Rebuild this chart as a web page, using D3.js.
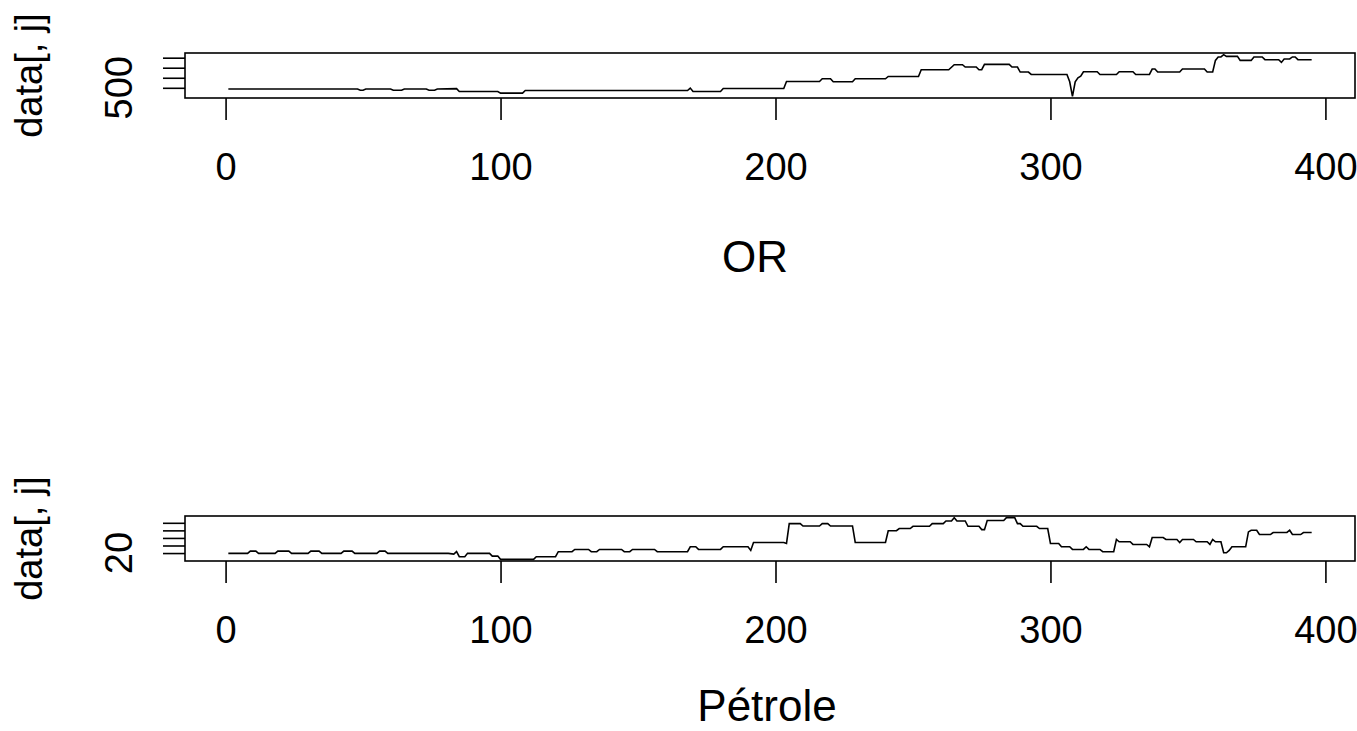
<!DOCTYPE html>
<html>
<head>
<meta charset="utf-8">
<script src="https://cdn.jsdelivr.net/npm/d3@7"></script>
<style>
  body { margin: 0; background: #fff; }
  svg text { font-family: "Liberation Sans", Arial, sans-serif; fill: #000; }
</style>
</head>
<body>
<svg id="chart" width="1357" height="731"></svg>
<script>
// x ticks shared by both panels
var xTicks = [0, 100, 200, 300, 400];

// OR (gold) - breakpoints (index, value)
var orIdx = [1, 48, 49, 50, 51, 60, 61, 64, 65, 73, 74, 76, 77, 84, 85, 99, 100, 108, 109, 168,
  169, 170, 180, 181, 203, 204, 216, 217, 220, 221, 228, 229, 240, 241, 252, 253, 263, 265, 268, 269,
  273, 274, 275, 276, 285, 286, 288, 289, 292, 293, 306, 307, 308, 309, 310, 311, 312, 317, 318, 324,
  325, 330, 331, 336, 337, 338, 339, 347, 348, 356, 357, 359, 360, 361, 362, 363, 364, 368, 369, 373,
  374, 377, 378, 383, 384, 385, 387, 388, 389, 390, 395];
var orVal = [488, 488, 476, 476, 488, 488, 476, 476, 488, 488, 476, 476, 488, 492, 463, 463, 447, 447, 473, 473,
  497, 463, 463, 493, 493, 563, 563, 590, 590, 560, 560, 590, 590, 613, 613, 680, 680, 730, 730, 707,
  707, 680, 680, 733, 733, 707, 707, 657, 657, 633, 633, 560, 415, 560, 600, 615, 660, 660, 633, 633,
  660, 660, 633, 633, 687, 687, 657, 657, 687, 687, 657, 657, 773, 807, 807, 830, 813, 813, 773, 773,
  807, 807, 780, 780, 753, 787, 787, 807, 807, 780, 780];
var orTicks = [500, 600, 700, 800];

// Petrole (oil)
var petIdx = [1, 8, 9, 11, 12, 18, 19, 23, 24, 30, 31, 34, 35, 42, 43, 46, 47, 55, 56, 58,
  59, 81, 83, 84, 85, 87, 88, 96, 97, 99, 100, 112, 113, 120, 121, 126, 127, 132, 133, 135,
  136, 144, 145, 147, 148, 156, 157, 168, 169, 171, 172, 180, 181, 190, 191, 192, 203, 204, 205, 209,
  210, 216, 217, 219, 220, 228, 229, 240, 241, 244, 245, 249, 250, 256, 257, 261, 262, 264, 265, 266,
  269, 270, 274, 275, 276, 277, 283, 284, 287, 288, 289, 290, 295, 296, 299, 300, 303, 304, 307, 308,
  312, 313, 314, 318, 319, 323, 324, 325, 329, 330, 335, 336, 337, 341, 342, 346, 347, 348, 352, 353,
  357, 358, 359, 360, 362, 363, 364, 365, 366, 371, 372, 373, 375, 376, 380, 381, 386, 387, 388, 391,
  392, 395];
var petVal = [19.6, 19.6, 22.6, 22.6, 19.6, 19.6, 22.6, 22.6, 19.6, 19.6, 22.6, 22.6, 19.6, 19.6, 22.6, 22.6, 19.6, 19.6, 22.6, 22.6,
  19.6, 19.6, 18.7, 21.9, 15.2, 15.2, 19.6, 19.6, 16, 16, 11.7, 11.7, 15.2, 15.2, 21.8, 21.8, 24.8, 24.8, 21.8, 21.8,
  24.8, 24.8, 21.8, 21.8, 24.8, 24.8, 21.8, 21.8, 28.3, 28.3, 24.8, 24.8, 28.3, 28.3, 23.5, 34, 34, 32.7, 58.9, 58.9,
  55.8, 55.8, 58.9, 58.9, 55.8, 55.8, 34, 34, 49.5, 49.5, 52.4, 52.4, 55.4, 55.4, 58.9, 58.9, 62.4, 62.4, 66.8, 62.4,
  62.4, 55.4, 55.4, 51, 51, 63, 63, 66.8, 66.8, 58.9, 58.9, 55.4, 55.4, 52.4, 52.4, 32.7, 32.7, 28.3, 28.3, 24.8,
  24.8, 28.3, 24.8, 24.8, 21.8, 21.8, 38, 34.9, 34.9, 31.4, 31.4, 28.3, 40.6, 40.6, 38, 38, 34, 38, 38, 34.9,
  34.9, 31.4, 38, 34.9, 34.9, 20.4, 20.4, 23.5, 28.3, 28.3, 48, 50.2, 50.2, 44.5, 44.5, 47.2, 47.2, 50.2, 44.5, 44.5,
  47.2, 47.2];
var petTicks = [20, 30, 40, 50, 60];

var svg = d3.select("#chart");
var left = 185, right = 1355;
var tickFs = 38, labFs = 38, titleFs = 44, lw = 1.6;

// R style range: data extent widened by 4% each side
function rRange(vals) {
  var e = d3.extent(vals), r = e[1] - e[0];
  return [e[0] - 0.04 * r, e[1] + 0.04 * r];
}

function panel(top, height, idx, val, yTicks, title, titleX, titleY) {
  var g = svg.append("g");
  var x = d3.scaleLinear().domain(rRange([1, 395])).range([left, right]);
  var y = d3.scaleLinear().domain(rRange(val)).range([top + height, top]);

  var line = d3.line()
    .x(function(d, i) { return x(idx[i]); })
    .y(function(d) { return y(d); });

  g.append("path")
    .datum(val)
    .attr("d", line)
    .attr("fill", "none")
    .attr("stroke", "#000")
    .attr("stroke-width", lw);

  // x axis
  var xa = g.append("g")
    .attr("transform", "translate(0," + (top + height) + ")")
    .call(d3.axisBottom(x).tickValues(xTicks).tickSize(22).tickPadding(33).tickFormat(d3.format("d")));
  xa.select(".domain").remove();
  xa.selectAll("line").attr("stroke", "#000").attr("stroke-width", lw);
  xa.selectAll("text").attr("font-size", tickFs).attr("font-family", null);

  // y axis, labels parallel to axis
  var ya = g.append("g")
    .attr("transform", "translate(" + left + ",0)")
    .call(d3.axisLeft(y).tickValues(yTicks).tickSize(22).tickFormat(""));
  ya.select(".domain").remove();
  ya.selectAll("line").attr("stroke", "#000").attr("stroke-width", lw);

  // R drops labels that would overlap
  var lastEdge = Infinity;
  yTicks.forEach(function(t) {
    var ty = y(t);
    var txt = g.append("text")
      .attr("transform", "translate(132," + ty + ") rotate(-90)")
      .attr("text-anchor", "middle")
      .attr("font-size", tickFs)
      .text(t);
    var w = txt.node().getComputedTextLength();
    if (ty + w / 2 > lastEdge - 4) { txt.remove(); }
    else { lastEdge = ty - w / 2; }
  });

  // box
  g.append("rect")
    .attr("x", left).attr("y", top)
    .attr("width", right - left).attr("height", height)
    .attr("fill", "none").attr("stroke", "#000").attr("stroke-width", lw);

  g.append("text")
    .attr("transform", "translate(42," + (top + height / 2) + ") rotate(-90)")
    .attr("text-anchor", "middle")
    .attr("font-size", labFs)
    .text("data[, j]");

  g.append("text")
    .attr("x", titleX).attr("y", titleY)
    .attr("text-anchor", "middle")
    .attr("font-size", titleFs)
    .text(title);
}

panel(53, 45, orIdx, orVal, orTicks, "OR", 755, 272);
panel(516, 45, petIdx, petVal, petTicks, "Pétrole", 767, 721);
</script>
</body>
</html>
